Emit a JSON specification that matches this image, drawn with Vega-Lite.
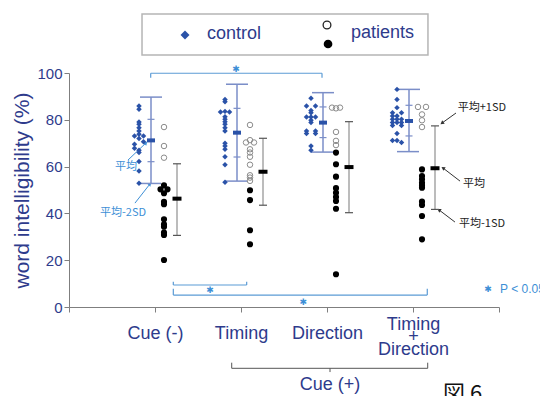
{
  "$schema": "https://vega.github.io/schema/vega-lite/v6.json",
  "width": 430,
  "height": 234,
  "autosize": "none",
  "padding": {"left": 69, "top": 73, "right": 41, "bottom": 89},
  "background": "white",
  "config": {"view": {"stroke": null}, "text": {"font": "Liberation Sans"}},
  "datasets": {
    "control": [
      {"c":1,"v":85.9,"l":0},{"c":1,"v":84.5,"l":0},{"c":1,"v":79.1,"l":0},{"c":1,"v":78.1,"l":0},{"c":1,"v":76.6,"l":0},{"c":1,"v":75.2,"l":0},{"c":1,"v":73.8,"l":0},{"c":1,"v":73.1,"l":-1},{"c":1,"v":73.1,"l":1},{"c":1,"v":72.0,"l":0},{"c":1,"v":70.6,"l":1},{"c":1,"v":69.6,"l":-1},{"c":1,"v":67.8,"l":-1},{"c":1,"v":67.0,"l":0},{"c":1,"v":66.0,"l":0},{"c":1,"v":62.2,"l":0},{"c":1,"v":58.1,"l":0},{"c":1,"v":52.9,"l":0},
      {"c":2,"v":88.7,"l":0},{"c":2,"v":87.7,"l":0},{"c":2,"v":83.3,"l":-1},{"c":2,"v":83.6,"l":0},{"c":2,"v":83.3,"l":1},{"c":2,"v":81.3,"l":0},{"c":2,"v":80.2,"l":0},{"c":2,"v":79.2,"l":0},{"c":2,"v":78.1,"l":0},{"c":2,"v":76.6,"l":0},{"c":2,"v":75.2,"l":0},{"c":2,"v":70.0,"l":0},{"c":2,"v":68.8,"l":0},{"c":2,"v":67.4,"l":0},{"c":2,"v":64.2,"l":0},{"c":2,"v":60.8,"l":0},{"c":2,"v":53.3,"l":0},
      {"c":3,"v":89.2,"l":0},{"c":3,"v":85.9,"l":-1},{"c":3,"v":85.9,"l":1},{"c":3,"v":84.0,"l":0},{"c":3,"v":83.0,"l":0},{"c":3,"v":81.2,"l":-1},{"c":3,"v":81.2,"l":0},{"c":3,"v":81.2,"l":1},{"c":3,"v":79.8,"l":0},{"c":3,"v":78.8,"l":0},{"c":3,"v":75.2,"l":-1},{"c":3,"v":75.2,"l":1},{"c":3,"v":74.1,"l":-1},{"c":3,"v":74.1,"l":1},{"c":3,"v":68.8,"l":0},{"c":3,"v":67.0,"l":0},
      {"c":4,"v":93.0,"l":0},{"c":4,"v":88.7,"l":0},{"c":4,"v":85.2,"l":0},{"c":4,"v":83.0,"l":-1},{"c":4,"v":83.0,"l":1},{"c":4,"v":81.6,"l":-1},{"c":4,"v":81.6,"l":0},{"c":4,"v":80.2,"l":-1},{"c":4,"v":80.2,"l":0},{"c":4,"v":80.2,"l":1},{"c":4,"v":78.8,"l":-1},{"c":4,"v":78.8,"l":0},{"c":4,"v":78.8,"l":1},{"c":4,"v":77.6,"l":-1},{"c":4,"v":77.6,"l":1},{"c":4,"v":74.1,"l":0},{"c":4,"v":71.2,"l":-1},{"c":4,"v":71.2,"l":0},{"c":4,"v":70.3,"l":1}
    ],
    "patients": [
      {"c":1,"s":"open","v":76.9,"l":0},{"c":1,"s":"open","v":68.8,"l":0},{"c":1,"s":"open","v":63.8,"l":0},
      {"c":1,"s":"filled","v":52.0,"l":0},{"c":1,"s":"filled","v":50.3,"l":-1},{"c":1,"s":"filled","v":50.3,"l":1},{"c":1,"s":"filled","v":48.6,"l":0},{"c":1,"s":"filled","v":44.9,"l":0},{"c":1,"s":"filled","v":43.9,"l":0},{"c":1,"s":"filled","v":37.5,"l":0},{"c":1,"s":"filled","v":35.3,"l":0},{"c":1,"s":"filled","v":34.3,"l":0},{"c":1,"s":"filled","v":31.8,"l":0},{"c":1,"s":"filled","v":30.8,"l":0},{"c":1,"s":"filled","v":20.1,"l":0},
      {"c":2,"s":"open","v":77.8,"l":0},{"c":2,"s":"open","v":71.3,"l":0},{"c":2,"s":"open","v":70.3,"l":-1},{"c":2,"s":"open","v":70.3,"l":1},{"c":2,"s":"open","v":67.4,"l":0},{"c":2,"s":"open","v":66.0,"l":0},{"c":2,"s":"open","v":64.2,"l":0},{"c":2,"s":"open","v":60.8,"l":0},{"c":2,"s":"open","v":56.3,"l":0},{"c":2,"s":"open","v":55.3,"l":0},{"c":2,"s":"open","v":53.9,"l":0},
      {"c":2,"s":"filled","v":49.9,"l":0},{"c":2,"s":"filled","v":45.7,"l":0},{"c":2,"s":"filled","v":32.8,"l":0},{"c":2,"s":"filled","v":26.8,"l":0},
      {"c":3,"s":"open","v":85.2,"l":-1},{"c":3,"s":"open","v":84.9,"l":0},{"c":3,"s":"open","v":85.2,"l":1},{"c":3,"s":"open","v":74.8,"l":0},{"c":3,"s":"open","v":71.0,"l":0},{"c":3,"s":"open","v":69.2,"l":0},
      {"c":3,"s":"filled","v":66.0,"l":0},{"c":3,"s":"filled","v":61.0,"l":0},{"c":3,"s":"filled","v":55.7,"l":0},{"c":3,"s":"filled","v":50.8,"l":0},{"c":3,"s":"filled","v":48.8,"l":0},{"c":3,"s":"filled","v":47.0,"l":0},{"c":3,"s":"filled","v":45.3,"l":0},{"c":3,"s":"filled","v":42.0,"l":0},{"c":3,"s":"filled","v":14.0,"l":0},
      {"c":4,"s":"open","v":85.5,"l":-1},{"c":4,"s":"open","v":85.5,"l":1},{"c":4,"s":"open","v":82.3,"l":0},{"c":4,"s":"open","v":79.8,"l":0},{"c":4,"s":"open","v":76.9,"l":0},
      {"c":4,"s":"filled","v":58.8,"l":0},{"c":4,"s":"filled","v":56.0,"l":0},{"c":4,"s":"filled","v":54.6,"l":0},{"c":4,"s":"filled","v":53.1,"l":0},{"c":4,"s":"filled","v":52.0,"l":0},{"c":4,"s":"filled","v":51.0,"l":0},{"c":4,"s":"filled","v":45.0,"l":0},{"c":4,"s":"filled","v":43.6,"l":0},{"c":4,"s":"filled","v":38.9,"l":0},{"c":4,"s":"filled","v":28.9,"l":0}
    ],
    "cstats": [
      {"c":1,"mean":71.2,"lo1":62.1,"hi1":80.2,"lo2":52.8,"hi2":89.7},
      {"c":2,"mean":74.5,"lo1":64.1,"hi1":84.9,"lo2":53.8,"hi2":95.2},
      {"c":3,"mean":78.8,"lo1":72.4,"hi1":85.5,"lo2":66.2,"hi2":91.6},
      {"c":4,"mean":79.5,"lo1":73.1,"hi1":86.2,"lo2":66.4,"hi2":93.0}
    ],
    "pstats": [
      {"c":1,"mean":46.3,"lo1":30.6,"hi1":61.2},
      {"c":2,"mean":57.8,"lo1":43.5,"hi1":72.1},
      {"c":3,"mean":59.8,"lo1":40.3,"hi1":79.2},
      {"c":4,"mean":59.3,"lo1":41.7,"hi1":77.4}
    ],
    "seg": [
      {"set":"sig","x":0.950,"y":99.9,"x2":2.942,"y2":99.9},
      {"set":"sig","x":0.950,"y":99.9,"x2":0.950,"y2":98.0},
      {"set":"sig","x":2.942,"y":99.9,"x2":2.942,"y2":98.0},
      {"set":"sig","x":1.213,"y":9.4,"x2":2.066,"y2":9.4},
      {"set":"sig","x":1.213,"y":9.4,"x2":1.213,"y2":10.8},
      {"set":"sig","x":2.066,"y":9.4,"x2":2.066,"y2":10.8},
      {"set":"sig","x":1.213,"y":5.1,"x2":4.166,"y2":5.1},
      {"set":"sig","x":1.213,"y":5.1,"x2":1.213,"y2":7.8},
      {"set":"sig","x":4.166,"y":5.1,"x2":4.166,"y2":7.8},
      {"set":"cue","x":1.892,"y":-26.2,"x2":4.171,"y2":-26.2},
      {"set":"cue","x":1.892,"y":-26.2,"x2":1.892,"y2":-23.8},
      {"set":"cue","x":4.171,"y":-26.2,"x2":4.171,"y2":-23.8},
      {"set":"cue","x":3.035,"y":-26.2,"x2":3.035,"y2":-27.8},
      {"set":"blue","x":0.686,"y":62.8,"x2":0.895,"y2":70.1},
      {"set":"blue","x":0.767,"y":44.4,"x2":0.942,"y2":52.6},
      {"set":"black","x":4.5,"y":82.9,"x2":4.337,"y2":78.6},
      {"set":"black","x":4.547,"y":53.8,"x2":4.349,"y2":59.4},
      {"set":"black","x":4.488,"y":36.3,"x2":4.302,"y2":41.5}
    ],
    "heads": [
      {"set":"blue","x":0.895,"y":70.1},
      {"set":"blue","x":0.942,"y":52.6},
      {"set":"up","x":4.337,"y":78.6},
      {"set":"down","x":4.349,"y":59.4},
      {"set":"down","x":4.302,"y":41.5}
    ],
    "box": [{"x":0.849,"x2":4.174,"y":125.2,"y2":107.7}],
    "legsym": [
      {"s":"control","x":1.349,"y":116.2},
      {"s":"open","x":3.0,"y":120.5},
      {"s":"filled","x":3.012,"y":112.4}
    ],
    "texts": [
      {"set":"blueNote","x":0.535,"y":59.8,"t":"平均"},
      {"set":"blueNote","x":0.36,"y":40.2,"t":"平均-2SD"},
      {"set":"blackNote","x":4.52,"y":85.0,"t":"平均+1SD"},
      {"set":"blackNote","x":4.58,"y":52.6,"t":"平均"},
      {"set":"blackNote","x":4.535,"y":35.5,"t":"平均-1SD"},
      {"set":"star","x":1.942,"y":101.7,"t":"✱"},
      {"set":"star","x":1.640,"y":7.3,"t":"✱"},
      {"set":"star","x":2.724,"y":2.0,"t":"✱"},
      {"set":"star","x":4.872,"y":7.6,"t":"✱"},
      {"set":"p","x":5.012,"y":7.5,"t":"P < 0.05"},
      {"set":"cue","x":3.035,"y":-33.3,"t":"Cue (+)"},
      {"set":"legend","x":1.605,"y":116.7,"t":"control"},
      {"set":"legend","x":3.279,"y":117.1,"t":"patients"},
      {"set":"fig","x":4.349,"y":-32.9,"t":"図 6"}
    ]
  },
  "layer": [
    {
      "data": {"name": "seg"},
      "transform": [{"filter": "datum.set === 'sig'"}],
      "mark": {"type": "rule", "color": "#5b9bd5", "strokeWidth": 1.2},
      "encoding": {
        "x": {"field": "x", "type": "quantitative", "scale": {"domain": [0, 5], "nice": false, "zero": false},
          "axis": {"values": [0, 1, 2, 3, 4, 5], "title": null, "grid": false,
            "labelExpr": "datum.value == 1 ? 'Cue (-)' : datum.value == 2 ? 'Timing' : datum.value == 3 ? 'Direction' : datum.value == 4 ? ['Timing', '+', 'Direction'] : ''",
            "domainColor": "#7f7f7f", "tickColor": "#7f7f7f", "tickSize": 5,
            "labelColor": "#2e3b8c", "labelFontSize": 18, "labelFont": "Liberation Sans",
            "labelBaseline": "middle",
            "labelPadding": {"condition": {"test": "datum.value == 4", "value": 12}, "value": 21},
            "labelLineHeight": 12.5,
            "labelFlush": false, "labelOverlap": false, "labelBound": false}},
        "x2": {"field": "x2"},
        "y": {"field": "y", "type": "quantitative", "scale": {"domain": [0, 100], "nice": false},
          "axis": {"values": [0, 10, 20, 30, 40, 50, 60, 70, 80, 90, 100], "grid": false,
            "labelExpr": "datum.value % 20 === 0 ? datum.label : ''",
            "tickSize": {"condition": {"test": "datum.value % 20 === 0", "value": 5}, "value": 3},
            "domainColor": "#7f7f7f", "tickColor": "#7f7f7f",
            "labelColor": "#2e3b8c", "labelFontSize": 15, "labelFont": "Liberation Sans", "labelPadding": 2,
            "title": "word intelligibility (%)", "titleFontSize": 21, "titleFontWeight": "normal",
            "titleColor": "#2e3b8c", "titleFont": "Liberation Sans", "titlePadding": 4}},
        "y2": {"field": "y2"}
      }
    },
    {
      "data": {"name": "seg"},
      "transform": [{"filter": "datum.set === 'cue'"}],
      "mark": {"type": "rule", "color": "#555555", "strokeWidth": 1},
      "encoding": {
        "x": {"field": "x", "type": "quantitative"},
        "x2": {"field": "x2"},
        "y": {"field": "y", "type": "quantitative"},
        "y2": {"field": "y2"}
      }
    },
    {
      "data": {"name": "seg"},
      "transform": [{"filter": "datum.set === 'blue'"}],
      "mark": {"type": "rule", "color": "#3d8fd6", "strokeWidth": 1},
      "encoding": {
        "x": {"field": "x", "type": "quantitative"},
        "x2": {"field": "x2"},
        "y": {"field": "y", "type": "quantitative"},
        "y2": {"field": "y2"}
      }
    },
    {
      "data": {"name": "seg"},
      "transform": [{"filter": "datum.set === 'black'"}],
      "mark": {"type": "rule", "color": "#333333", "strokeWidth": 1},
      "encoding": {
        "x": {"field": "x", "type": "quantitative"},
        "x2": {"field": "x2"},
        "y": {"field": "y", "type": "quantitative"},
        "y2": {"field": "y2"}
      }
    },
    {
      "data": {"name": "heads"},
      "transform": [{"filter": "datum.set === 'blue'"}],
      "mark": {"type": "point", "shape": "triangle-up", "filled": true, "size": 18, "color": "#3d8fd6", "angle": 42, "opacity": 1},
      "encoding": {
        "x": {"field": "x", "type": "quantitative"},
        "y": {"field": "y", "type": "quantitative"}
      }
    },
    {
      "data": {"name": "heads"},
      "transform": [{"filter": "datum.set === 'up'"}],
      "mark": {"type": "point", "shape": "triangle-up", "filled": true, "size": 18, "color": "#333333", "angle": 234, "opacity": 1},
      "encoding": {
        "x": {"field": "x", "type": "quantitative"},
        "y": {"field": "y", "type": "quantitative"}
      }
    },
    {
      "data": {"name": "heads"},
      "transform": [{"filter": "datum.set === 'down'"}],
      "mark": {"type": "point", "shape": "triangle-up", "filled": true, "size": 18, "color": "#333333", "angle": 303, "opacity": 1},
      "encoding": {
        "x": {"field": "x", "type": "quantitative"},
        "y": {"field": "y", "type": "quantitative"}
      }
    },
    {
      "data": {"name": "box"},
      "mark": {"type": "rect", "fill": null, "stroke": "#b5b5b5", "strokeWidth": 1.5},
      "encoding": {
        "x": {"field": "x", "type": "quantitative"},
        "x2": {"field": "x2"},
        "y": {"field": "y", "type": "quantitative"},
        "y2": {"field": "y2"}
      }
    },
    {
      "data": {"name": "legsym"},
      "transform": [{"filter": "datum.s === 'control'"}],
      "mark": {"type": "point", "shape": "diamond", "filled": true, "size": 80, "color": "#2a52a8", "opacity": 1},
      "encoding": {
        "x": {"field": "x", "type": "quantitative"},
        "y": {"field": "y", "type": "quantitative"}
      }
    },
    {
      "data": {"name": "legsym"},
      "transform": [{"filter": "datum.s === 'open'"}],
      "mark": {"type": "point", "shape": "circle", "filled": false, "size": 60, "color": "#222222", "strokeWidth": 1.3, "opacity": 1},
      "encoding": {
        "x": {"field": "x", "type": "quantitative"},
        "y": {"field": "y", "type": "quantitative"}
      }
    },
    {
      "data": {"name": "legsym"},
      "transform": [{"filter": "datum.s === 'filled'"}],
      "mark": {"type": "circle", "size": 75, "color": "#000000", "opacity": 1},
      "encoding": {
        "x": {"field": "x", "type": "quantitative"},
        "y": {"field": "y", "type": "quantitative"}
      }
    },
    {
      "data": {"name": "cstats"},
      "mark": {"type": "rule", "color": "#7b8ec8", "strokeWidth": 1.5, "xOffset": -4},
      "encoding": {
        "x": {"field": "c", "type": "quantitative"},
        "y": {"field": "lo2", "type": "quantitative"},
        "y2": {"field": "hi2"}
      }
    },
    {
      "data": {"name": "cstats"},
      "mark": {"type": "tick", "orient": "horizontal", "color": "#7b8ec8", "size": 22, "thickness": 1.5, "xOffset": -4, "opacity": 1},
      "encoding": {
        "x": {"field": "c", "type": "quantitative"},
        "y": {"field": "hi2", "type": "quantitative"}
      }
    },
    {
      "data": {"name": "cstats"},
      "mark": {"type": "tick", "orient": "horizontal", "color": "#7b8ec8", "size": 22, "thickness": 1.5, "xOffset": -5, "opacity": 1},
      "encoding": {
        "x": {"field": "c", "type": "quantitative"},
        "y": {"field": "lo2", "type": "quantitative"}
      }
    },
    {
      "data": {"name": "cstats"},
      "mark": {"type": "tick", "orient": "horizontal", "color": "#7b8ec8", "size": 7, "thickness": 1.2, "xOffset": -4, "opacity": 1},
      "encoding": {
        "x": {"field": "c", "type": "quantitative"},
        "y": {"field": "hi1", "type": "quantitative"}
      }
    },
    {
      "data": {"name": "cstats"},
      "mark": {"type": "tick", "orient": "horizontal", "color": "#7b8ec8", "size": 7, "thickness": 1.2, "xOffset": -4, "opacity": 1},
      "encoding": {
        "x": {"field": "c", "type": "quantitative"},
        "y": {"field": "lo1", "type": "quantitative"}
      }
    },
    {
      "data": {"name": "cstats"},
      "mark": {"type": "tick", "orient": "horizontal", "color": "#2a52a8", "size": 8, "thickness": 4, "xOffset": -4, "opacity": 1},
      "encoding": {
        "x": {"field": "c", "type": "quantitative"},
        "y": {"field": "mean", "type": "quantitative"}
      }
    },
    {
      "data": {"name": "pstats"},
      "mark": {"type": "rule", "color": "#a6a6a6", "strokeWidth": 1.5, "xOffset": 22},
      "encoding": {
        "x": {"field": "c", "type": "quantitative"},
        "y": {"field": "lo1", "type": "quantitative"},
        "y2": {"field": "hi1"}
      }
    },
    {
      "data": {"name": "pstats"},
      "mark": {"type": "tick", "orient": "horizontal", "color": "#555555", "size": 8, "thickness": 1.2, "xOffset": 22, "opacity": 1},
      "encoding": {
        "x": {"field": "c", "type": "quantitative"},
        "y": {"field": "hi1", "type": "quantitative"}
      }
    },
    {
      "data": {"name": "pstats"},
      "mark": {"type": "tick", "orient": "horizontal", "color": "#555555", "size": 8, "thickness": 1.2, "xOffset": 22, "opacity": 1},
      "encoding": {
        "x": {"field": "c", "type": "quantitative"},
        "y": {"field": "lo1", "type": "quantitative"}
      }
    },
    {
      "data": {"name": "pstats"},
      "mark": {"type": "tick", "orient": "horizontal", "color": "#000000", "size": 9, "thickness": 4, "xOffset": 22, "opacity": 1},
      "encoding": {
        "x": {"field": "c", "type": "quantitative"},
        "y": {"field": "mean", "type": "quantitative"}
      }
    },
    {
      "data": {"name": "control"},
      "layer": [
        {
          "transform": [{"filter": "datum.l === -1"}],
          "mark": {"type": "point", "shape": "diamond", "filled": true, "size": 30, "color": "#2a52a8", "opacity": 1, "xOffset": -20.5},
          "encoding": {"x": {"field": "c", "type": "quantitative"}, "y": {"field": "v", "type": "quantitative"}}
        },
        {
          "transform": [{"filter": "datum.l === 0"}],
          "mark": {"type": "point", "shape": "diamond", "filled": true, "size": 30, "color": "#2a52a8", "opacity": 1, "xOffset": -16},
          "encoding": {"x": {"field": "c", "type": "quantitative"}, "y": {"field": "v", "type": "quantitative"}}
        },
        {
          "transform": [{"filter": "datum.l === 1"}],
          "mark": {"type": "point", "shape": "diamond", "filled": true, "size": 30, "color": "#2a52a8", "opacity": 1, "xOffset": -11.5},
          "encoding": {"x": {"field": "c", "type": "quantitative"}, "y": {"field": "v", "type": "quantitative"}}
        }
      ]
    },
    {
      "data": {"name": "patients"},
      "layer": [
        {
          "transform": [{"filter": "datum.s === 'open' && datum.l === -1"}],
          "mark": {"type": "point", "shape": "circle", "filled": false, "size": 30, "color": "#8c8c8c", "strokeWidth": 1, "opacity": 1, "xOffset": 5},
          "encoding": {"x": {"field": "c", "type": "quantitative"}, "y": {"field": "v", "type": "quantitative"}}
        },
        {
          "transform": [{"filter": "datum.s === 'open' && datum.l === 0"}],
          "mark": {"type": "point", "shape": "circle", "filled": false, "size": 30, "color": "#8c8c8c", "strokeWidth": 1, "opacity": 1, "xOffset": 9},
          "encoding": {"x": {"field": "c", "type": "quantitative"}, "y": {"field": "v", "type": "quantitative"}}
        },
        {
          "transform": [{"filter": "datum.s === 'open' && datum.l === 1"}],
          "mark": {"type": "point", "shape": "circle", "filled": false, "size": 30, "color": "#8c8c8c", "strokeWidth": 1, "opacity": 1, "xOffset": 13},
          "encoding": {"x": {"field": "c", "type": "quantitative"}, "y": {"field": "v", "type": "quantitative"}}
        },
        {
          "transform": [{"filter": "datum.s === 'filled' && datum.l === -1"}],
          "mark": {"type": "circle", "size": 38, "color": "#000000", "opacity": 1, "xOffset": 5.5},
          "encoding": {"x": {"field": "c", "type": "quantitative"}, "y": {"field": "v", "type": "quantitative"}}
        },
        {
          "transform": [{"filter": "datum.s === 'filled' && datum.l === 0"}],
          "mark": {"type": "circle", "size": 38, "color": "#000000", "opacity": 1, "xOffset": 9},
          "encoding": {"x": {"field": "c", "type": "quantitative"}, "y": {"field": "v", "type": "quantitative"}}
        },
        {
          "transform": [{"filter": "datum.s === 'filled' && datum.l === 1"}],
          "mark": {"type": "circle", "size": 38, "color": "#000000", "opacity": 1, "xOffset": 12.5},
          "encoding": {"x": {"field": "c", "type": "quantitative"}, "y": {"field": "v", "type": "quantitative"}}
        }
      ]
    },
    {
      "data": {"name": "texts"},
      "transform": [{"filter": "datum.set === 'blueNote'"}],
      "mark": {"type": "text", "align": "left", "baseline": "middle", "fontSize": 11, "color": "#3d8fd6", "font": "Noto Sans CJK JP"},
      "encoding": {
        "x": {"field": "x", "type": "quantitative"},
        "y": {"field": "y", "type": "quantitative"},
        "text": {"field": "t"}
      }
    },
    {
      "data": {"name": "texts"},
      "transform": [{"filter": "datum.set === 'blackNote'"}],
      "mark": {"type": "text", "align": "left", "baseline": "middle", "fontSize": 11, "color": "#222222", "font": "Noto Sans CJK JP"},
      "encoding": {
        "x": {"field": "x", "type": "quantitative"},
        "y": {"field": "y", "type": "quantitative"},
        "text": {"field": "t"}
      }
    },
    {
      "data": {"name": "texts"},
      "transform": [{"filter": "datum.set === 'star'"}],
      "mark": {"type": "text", "align": "center", "baseline": "middle", "fontSize": 9, "color": "#3d8fd6", "font": "DejaVu Sans"},
      "encoding": {
        "x": {"field": "x", "type": "quantitative"},
        "y": {"field": "y", "type": "quantitative"},
        "text": {"field": "t"}
      }
    },
    {
      "data": {"name": "texts"},
      "transform": [{"filter": "datum.set === 'p'"}],
      "mark": {"type": "text", "align": "left", "baseline": "middle", "fontSize": 12, "color": "#3d8fd6", "font": "Liberation Sans"},
      "encoding": {
        "x": {"field": "x", "type": "quantitative"},
        "y": {"field": "y", "type": "quantitative"},
        "text": {"field": "t"}
      }
    },
    {
      "data": {"name": "texts"},
      "transform": [{"filter": "datum.set === 'cue'"}],
      "mark": {"type": "text", "align": "center", "baseline": "middle", "fontSize": 18, "color": "#2e3b8c", "font": "Liberation Sans"},
      "encoding": {
        "x": {"field": "x", "type": "quantitative"},
        "y": {"field": "y", "type": "quantitative"},
        "text": {"field": "t"}
      }
    },
    {
      "data": {"name": "texts"},
      "transform": [{"filter": "datum.set === 'legend'"}],
      "mark": {"type": "text", "align": "left", "baseline": "middle", "fontSize": 18, "color": "#2e3b8c", "font": "Liberation Sans"},
      "encoding": {
        "x": {"field": "x", "type": "quantitative"},
        "y": {"field": "y", "type": "quantitative"},
        "text": {"field": "t"}
      }
    },
    {
      "data": {"name": "texts"},
      "transform": [{"filter": "datum.set === 'fig'"}],
      "mark": {"type": "text", "align": "left", "baseline": "top", "fontSize": 22, "color": "#111111", "font": "Noto Sans CJK JP"},
      "encoding": {
        "x": {"field": "x", "type": "quantitative"},
        "y": {"field": "y", "type": "quantitative"},
        "text": {"field": "t"}
      }
    }
  ]
}
